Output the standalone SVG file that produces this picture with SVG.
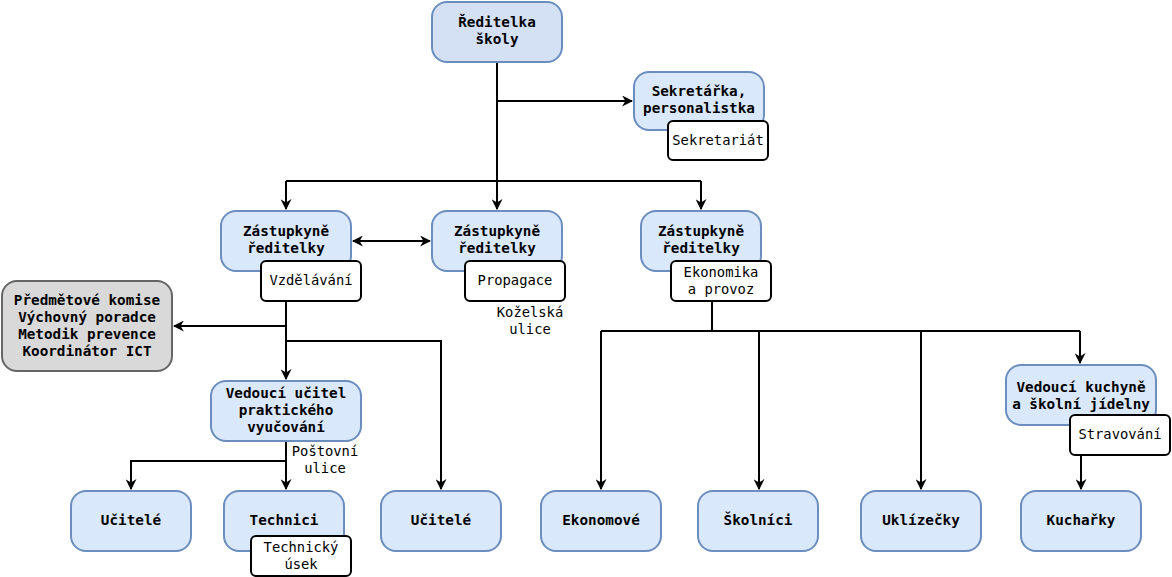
<svg xmlns="http://www.w3.org/2000/svg" width="1172" height="577" viewBox="0 0 1172 577">
<defs>
<marker id="ah" viewBox="0 0 10 10" refX="9" refY="5" markerWidth="11" markerHeight="11" markerUnits="userSpaceOnUse" orient="auto-start-reverse">
<path d="M0,0 L10,5 L0,10 L3,5 Z" fill="#000"/>
</marker>
<style>
.n{fill:#dae8fc;stroke:#6c8ebf;stroke-width:2}
.top{fill:#d4e1f5;stroke:#6c8ebf;stroke-width:2}
.g{fill:#d9d9d9;stroke:#666;stroke-width:2}
.l{fill:#fff;stroke:#000;stroke-width:2}
.t{font-family:"DejaVu Sans Mono","Liberation Mono",monospace;font-size:14.3px;font-weight:bold;fill:#000;text-anchor:middle}
.s{font-family:"DejaVu Sans Mono","Liberation Mono",monospace;font-size:13.8px;fill:#000;text-anchor:middle}
.c{fill:none;stroke:#000;stroke-width:2}
</style>
</defs>
<rect width="1172" height="577" fill="#fff"/>
<g id="connectors">
<path class="c" d="M497,62 V181"/>
<path class="c" d="M497,101 H632" marker-end="url(#ah)"/>
<path class="c" d="M286,181 H701"/>
<path class="c" d="M286,181 V209" marker-end="url(#ah)"/>
<path class="c" d="M497,181 V209" marker-end="url(#ah)"/>
<path class="c" d="M701,181 V209" marker-end="url(#ah)"/>
<path class="c" d="M353,241 H430" marker-start="url(#ah)" marker-end="url(#ah)"/>
<path class="c" d="M286,301 V379" marker-end="url(#ah)"/>
<path class="c" d="M286,326 H174" marker-end="url(#ah)"/>
<path class="c" d="M286,341 H441 V489" marker-end="url(#ah)"/>
<path class="c" d="M286,441 V489" marker-end="url(#ah)"/>
<path class="c" d="M286,461 H131 V489" marker-end="url(#ah)"/>
<path class="c" d="M712,301 V331"/>
<path class="c" d="M601,331 H1080"/>
<path class="c" d="M601,331 V489" marker-end="url(#ah)"/>
<path class="c" d="M759,331 V489" marker-end="url(#ah)"/>
<path class="c" d="M921,331 V489" marker-end="url(#ah)"/>
<path class="c" d="M1080,331 V363" marker-end="url(#ah)"/>
<path class="c" d="M1081,455 V489" marker-end="url(#ah)"/>
</g>
<g id="reditelka"><rect class="top" x="432" y="2" width="130" height="60" rx="15"/><text class="t" x="497" y="27">Ředitelka</text><text class="t" x="497" y="44">školy</text></g>
<g id="sekretarka"><rect class="n" x="634" y="72" width="130" height="58" rx="15"/><text class="t" x="699" y="96">Sekretářka,</text><text class="t" x="699" y="113">personalistka</text></g>
<g id="sekretariat"><rect class="l" x="668" y="121" width="100" height="39" rx="5"/><text class="s" x="718" y="145">Sekretariát</text></g>
<g id="zast1"><rect class="n" x="221" y="211" width="130" height="60" rx="15"/><text class="t" x="286" y="236">Zástupkyně</text><text class="t" x="286" y="253">ředitelky</text></g>
<g id="vzdelavani"><rect class="l" x="261" y="261" width="100" height="40" rx="5"/><text class="s" x="311" y="285">Vzdělávání</text></g>
<g id="zast2"><rect class="n" x="432" y="211" width="130" height="60" rx="15"/><text class="t" x="497" y="236">Zástupkyně</text><text class="t" x="497" y="253">ředitelky</text></g>
<g id="propagace"><rect class="l" x="465" y="261" width="100" height="40" rx="5"/><text class="s" x="515" y="285">Propagace</text></g>
<g id="kozelska"><text class="s" x="530" y="317">Koželská</text><text class="s" x="530" y="334">ulice</text></g>
<g id="zast3"><rect class="n" x="641" y="211" width="120" height="60" rx="15"/><text class="t" x="701" y="236">Zástupkyně</text><text class="t" x="701" y="253">ředitelky</text></g>
<g id="ekonomika"><rect class="l" x="671" y="261" width="100" height="40" rx="5"/><text class="s" x="721" y="277">Ekonomika</text><text class="s" x="721" y="294">a provoz</text></g>
<g id="komise"><rect class="g" x="2" y="281" width="170" height="90" rx="15"/><text class="t" x="87" y="305">Předmětové komise</text><text class="t" x="87" y="322">Výchovný poradce</text><text class="t" x="87" y="339">Metodik prevence</text><text class="t" x="87" y="356">Koordinátor ICT</text></g>
<g id="vedouci-ucitel"><rect class="n" x="211" y="381" width="150" height="60" rx="15"/><text class="t" x="286" y="398">Vedoucí učitel</text><text class="t" x="286" y="415">praktického</text><text class="t" x="286" y="432">vyučování</text></g>
<g id="postovni"><text class="s" x="325" y="456">Poštovní</text><text class="s" x="325" y="473">ulice</text></g>
<g id="ucitele1"><rect class="n" x="71" y="491" width="120" height="60" rx="15"/><text class="t" x="131" y="525">Učitelé</text></g>
<g id="technici"><rect class="n" x="224" y="491" width="120" height="60" rx="15"/><text class="t" x="284" y="525">Technici</text></g>
<g id="technicky-usek"><rect class="l" x="251" y="536" width="100" height="40" rx="5"/><text class="s" x="301" y="552">Technický</text><text class="s" x="301" y="569">úsek</text></g>
<g id="ucitele2"><rect class="n" x="381" y="491" width="120" height="60" rx="15"/><text class="t" x="441" y="525">Učitelé</text></g>
<g id="ekonomove"><rect class="n" x="541" y="491" width="120" height="60" rx="15"/><text class="t" x="601" y="525">Ekonomové</text></g>
<g id="skolnici"><rect class="n" x="698" y="491" width="120" height="60" rx="15"/><text class="t" x="758" y="525">Školníci</text></g>
<g id="uklizecky"><rect class="n" x="861" y="491" width="120" height="60" rx="15"/><text class="t" x="921" y="525">Uklízečky</text></g>
<g id="kucharky"><rect class="n" x="1021" y="491" width="120" height="60" rx="15"/><text class="t" x="1081" y="525">Kuchařky</text></g>
<g id="vedouci-kuchyne"><rect class="n" x="1006" y="365" width="150" height="60" rx="15"/><text class="t" x="1081" y="392">Vedoucí kuchyně</text><text class="t" x="1081" y="409">a školní jídelny</text></g>
<g id="stravovani"><rect class="l" x="1070" y="415" width="100" height="40" rx="5"/><text class="s" x="1120" y="439">Stravování</text></g>
</svg>
